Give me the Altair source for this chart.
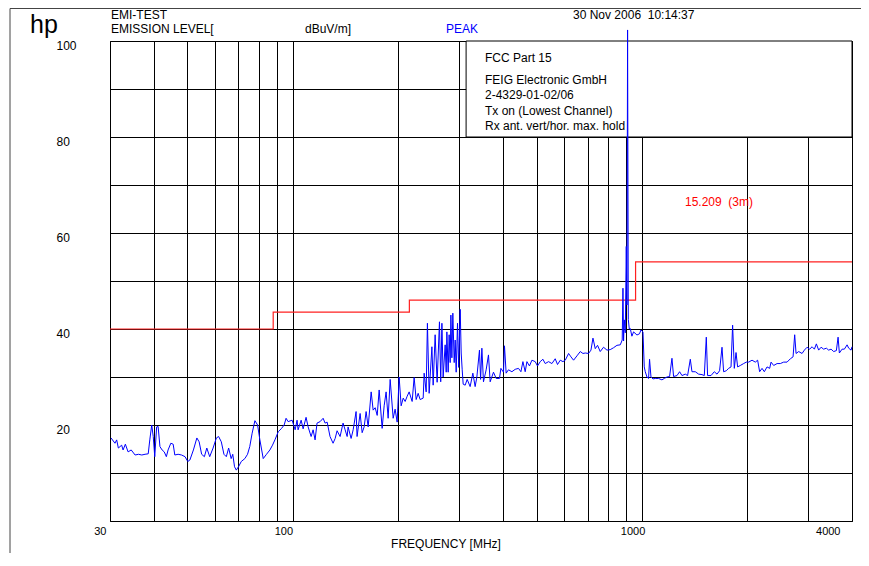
import altair as alt
import pandas as pd

# ---- measured spectrum (MHz, dBuV/m) ----
trace_30_100 = [
    (30.2, 17.3), (31.0, 16.2), (31.35, 16.9), (31.7, 15.2), (32.4, 15.8), (32.7, 14.8),
    (33.2, 16.0), (33.8, 14.4), (34.5, 14.8), (35.4, 13.75), (36.2, 13.9), (37.0, 13.75),
    (37.8, 13.9), (38.6, 14.0), (39.0, 16.9), (39.5, 20.0), (39.9, 17.6), (40.3, 13.4),
    (40.8, 19.6), (41.2, 19.7), (41.7, 15.5), (42.3, 14.8), (42.9, 14.4), (43.5, 13.4),
    (44.0, 14.8), (44.8, 16.2), (45.5, 16.0), (46.0, 13.75), (47.0, 13.9), (48.1, 13.75),
    (49.2, 13.4), (50.1, 12.4), (50.8, 12.7), (52.0, 14.8), (53.2, 17.3), (54.0, 16.5),
    (54.9, 13.9), (55.9, 13.4), (56.8, 15.2), (57.9, 13.4), (59.2, 15.2), (60.5, 17.3),
    (61.4, 17.6), (62.5, 16.5), (63.6, 13.9), (64.6, 13.4), (65.6, 15.2), (66.7, 13.0),
    (67.4, 13.9), (68.2, 11.3), (69.0, 10.6), (70.0, 11.3), (71.3, 12.4), (73.0, 13.0),
    (74.3, 13.9), (75.4, 15.5), (76.6, 18.3), (78.0, 20.9), (79.4, 20.0), (80.6, 16.9),
    (82.4, 13.0), (84.2, 13.9), (86.1, 14.8), (87.6, 15.8), (89.0, 16.9), (91.0, 18.6),
    (93.0, 19.3), (94.6, 20.0), (95.8, 21.4), (97.1, 20.7), (99.7, 21.0),
]
trace_100_300 = [
    (101.7, 19.0), (103.0, 21.0), (103.7, 19.0), (105.8, 21.0), (107.2, 19.2), (109.3, 21.6),
    (110.8, 19.6), (113.0, 17.6), (114.5, 19.0), (116.0, 16.9), (117.5, 20.4), (119.9, 20.7),
    (122.3, 21.4), (123.9, 20.4), (125.6, 20.6), (128.0, 17.6), (130.6, 16.2), (132.4, 17.2),
    (134.1, 18.8), (136.8, 17.6), (139.5, 20.4), (141.4, 19.0), (143.3, 17.6), (144.2, 19.6),
    (147.1, 17.2), (149.1, 19.0), (152.0, 22.8), (153.0, 17.6), (156.1, 22.4), (158.2, 18.4),
    (160.3, 19.6), (162.4, 22.8), (164.6, 19.6), (167.9, 26.9), (170.1, 23.1), (172.4, 23.6),
    (174.7, 22.0), (177.0, 27.3), (180.5, 19.3), (182.9, 24.0), (185.3, 26.9), (187.8, 21.4),
    (190.3, 29.5), (194.1, 21.4), (196.6, 23.3), (199.3, 20.6), (201.9, 30.0), (204.6, 24.0),
    (207.4, 25.6), (210.1, 24.9), (212.9, 26.0), (215.7, 26.9), (220.0, 24.9), (222.9, 29.9),
    (225.9, 25.3), (228.9, 26.6), (231.9, 25.3), (236.6, 25.6), (238.1, 30.8), (241.3, 26.9),
    (243.3, 41.2), (246.1, 26.6), (250.6, 36.3), (252.7, 28.3), (256.0, 38.8), (259.4, 28.9),
    (263.4, 41.5), (265.6, 29.0), (267.7, 41.2), (269.9, 30.0), (273.5, 36.7), (275.4, 31.0),
    (276.6, 39.4), (279.0, 31.0), (280.8, 38.8), (282.7, 33.0), (284.0, 42.9), (285.9, 34.0),
    (287.7, 43.3), (290.3, 33.0), (292.2, 37.7), (294.1, 31.0), (296.7, 41.2), (299.0, 32.0),
]
trace_300_1000 = [
    (302.0, 44.1), (304.0, 35.0), (306.0, 31.5), (308.0, 28.5), (312.1, 28.3), (316.2, 29.5),
    (322.5, 28.0), (328.3, 30.8), (333.3, 28.0), (337.1, 30.0), (342.9, 35.6), (345.5, 29.5),
    (348.4, 36.0), (352.1, 29.0), (358.4, 31.5), (363.9, 34.6), (368.0, 29.0), (376.1, 31.0),
    (382.9, 29.7), (391.3, 29.7), (395.0, 31.8), (401.8, 31.0), (404.4, 36.5), (408.9, 30.8),
    (415.2, 31.5), (424.7, 31.1), (434.0, 31.6), (443.6, 31.8), (450.7, 31.1), (456.7, 33.2),
    (463.6, 31.1), (468.9, 33.2), (476.9, 32.3), (484.6, 33.5), (495.2, 33.2), (502.8, 32.3),
    (511.9, 33.2), (521.1, 33.7), (529.1, 32.8), (540.8, 33.2), (553.0, 32.8), (565.1, 33.8),
    (573.8, 32.6), (584.3, 33.5), (594.7, 33.2), (603.9, 33.5), (617.2, 34.9), (626.9, 34.2),
    (637.8, 33.5), (652.2, 34.4), (666.6, 35.3), (678.5, 34.9), (688.9, 35.0), (704.1, 34.9),
    (715.3, 35.6), (724.8, 38.1), (735.8, 35.9), (747.0, 36.6), (760.4, 35.3), (777.1, 36.2),
    (794.9, 35.6), (812.3, 35.7), (830.2, 36.1), (849.0, 36.6), (867.8, 36.7), (879.0, 37.7),
    (883.4, 48.5), (886.9, 37.5), (891.1, 41.9), (897.0, 39.2), (902.9, 57.2), (907.0, 45.0),
    (910.7, 102.3), (915.0, 42.0), (921.0, 40.0), (927.0, 40.1), (937.0, 38.5), (947.4, 39.4),
    (968.8, 38.75), (985.0, 39.0), (994.7, 39.8),
]
trace_1000_4000 = [
    (1007.9, 39.4), (1016.6, 32.1), (1023.3, 31.1), (1034.9, 30.0), (1045.9, 29.7), (1052.7, 33.7),
    (1062.6, 30.0), (1076.8, 29.6), (1093.1, 29.7), (1117.1, 29.7), (1142.4, 29.4), (1160.0, 29.7),
    (1180.8, 30.0), (1201.3, 30.1), (1220.3, 33.9), (1233.4, 30.1), (1261.5, 30.3), (1283.3, 31.1),
    (1303.8, 30.3), (1332.4, 30.6), (1352.8, 30.3), (1377.2, 33.7), (1392.5, 31.1), (1423.3, 31.1),
    (1454.7, 30.6), (1487.6, 30.5), (1510.4, 30.3), (1530.4, 38.3), (1543.5, 30.3), (1578.6, 30.3),
    (1613.2, 31.1), (1642.4, 30.6), (1670.6, 31.3), (1697.4, 36.2), (1715.5, 31.1), (1746.2, 31.3),
    (1773.0, 31.8), (1801.4, 32.1), (1820.5, 40.8), (1840.8, 31.8), (1861.7, 35.1), (1881.5, 32.1),
    (1915.2, 32.4), (1957.6, 32.8), (1992.6, 33.1), (2023.1, 33.1), (2069.2, 33.5), (2114.5, 33.1),
    (2147.0, 33.5), (2175.4, 31.1), (2210.2, 31.8), (2244.0, 31.1), (2284.3, 32.1), (2324.1, 31.8),
    (2345.6, 33.1), (2386.5, 32.4), (2440.4, 32.8), (2493.9, 32.8), (2549.0, 33.1), (2606.7, 33.1),
    (2664.3, 33.8), (2712.0, 34.2), (2740.9, 38.8), (2766.2, 34.9), (2814.4, 35.3), (2877.9, 34.9),
    (2922.0, 35.6), (2974.3, 36.2), (3026.1, 35.8), (3074.6, 36.3), (3121.7, 35.8), (3162.3, 36.9),
    (3210.7, 35.6), (3262.1, 36.2), (3318.2, 35.8), (3378.3, 36.0), (3429.3, 35.6), (3484.2, 35.8),
    (3544.9, 35.3), (3608.3, 35.5), (3649.2, 38.3), (3680.4, 35.0), (3746.3, 35.8), (3803.7, 35.8),
    (3872.6, 36.7), (3913.8, 36.0), (3975.6, 35.6), (4000.0, 36.3),
]

# ---- FCC 15.209 (3m) limit ----
limit_freq = [30, 88, 88, 216, 216, 960, 960, 4000]
limit_level = [40, 40, 43.5, 43.5, 46, 46, 54, 54]

# ---- axes ----
x_grid = [30, 40, 50, 60, 70, 80, 90, 100, 200, 300, 400, 500, 600, 700, 800, 900,
          1000, 2000, 3000, 4000]
x_labels = [30, 100, 1000, 4000]
y_grid = [0, 10, 20, 30, 40, 50, 60, 70, 80, 90, 100]
y_labels = [20, 40, 60, 80, 100]

# ---- info box (frequency / level extent) ----
box_freq = [314, 4000]
box_level = [80, 100]
info_lines = ["FCC Part 15", "FEIG Electronic GmbH", "2-4329-01-02/06",
              "Tx on (Lowest Channel)", "Rx ant. vert/hor. max. hold"]

FONT = "Liberation Sans"
W, H = 742, 480

trace = trace_30_100 + trace_100_300 + trace_300_1000 + trace_1000_4000
df = pd.DataFrame(trace, columns=["freq", "level"])
df["i"] = range(len(df))
lim = pd.DataFrame({"freq": limit_freq, "level": limit_level, "i": range(len(limit_freq))})
box = pd.DataFrame({"f1": [box_freq[0]], "f2": [box_freq[1]],
                    "l1": [box_level[0]], "l2": [box_level[1]]})

xs = alt.Scale(type="log", domain=[30, 4000], nice=False)
ys = alt.Scale(domain=[0, 100], nice=False, zero=False)

x_label_offset = {
    "condition": [
        {"test": "datum.value == 30", "value": -4},
        {"test": "datum.value == 1000", "value": 3},
        {"test": "datum.value == 4000", "value": -12},
    ],
    "value": 0,
}

xaxis = alt.Axis(values=x_grid, format="d", title=None, grid=True,
                 labelExpr=f"indexof({x_labels}, datum.value) >= 0 ? datum.label : ''",
                 labelAlign="right", labelBaseline="top", labelPadding=4,
                 labelOffset=x_label_offset, labelFontSize=11)
yaxis = alt.Axis(values=y_grid, title=None, grid=True,
                 labelExpr=f"indexof({y_labels}, datum.value) >= 0 ? datum.label : ''",
                 labelAlign="left", labelBaseline="middle", labelPadding=54, labelOffset=4,
                 labelFontSize=12)

base_box = alt.Chart(box).mark_rect(fill="white", stroke="black", strokeWidth=1).encode(
    x=alt.X("f1:Q", scale=xs, axis=xaxis), x2="f2",
    y=alt.Y("l1:Q", scale=ys, axis=yaxis), y2="l2")

limit_line = alt.Chart(lim).mark_line(color="#ff2020", strokeWidth=1.2).encode(
    x=alt.X("freq:Q", scale=xs), y=alt.Y("level:Q", scale=ys), order="i:Q")

spec_line = alt.Chart(df).mark_line(color="#0000ff", strokeWidth=1).encode(
    x=alt.X("freq:Q", scale=xs), y=alt.Y("level:Q", scale=ys), order="i:Q")


def label(text, x, y, size=12, color="black", align="left"):
    return alt.Chart(pd.DataFrame({"t": [text]})).mark_text(
        align=align, baseline="alphabetic", fontSize=size, color=color, font=FONT
    ).encode(x=alt.value(x), y=alt.value(y), text="t:N")


def frame(x, x2, y, y2):
    return alt.Chart(pd.DataFrame({"a": [0]})).mark_rule(color="#444", strokeWidth=1).encode(
        x=alt.value(x), x2=alt.value(x2), y=alt.value(y), y2=alt.value(y2))


info_y = [20.5, 43.3, 58.3, 73.5, 89]
texts = [label(t, 375, yy) for t, yy in zip(info_lines, info_y)]
texts += [
    label("hp", -80, -8, size=25),
    label("EMI-TEST", 1, -22),
    label("EMISSION LEVEL[", 1, -8),
    label("dBuV/m]", 195, -8),
    label("PEAK", 336, -8, color="#0000ff"),
    label("30 Nov 2006\u00a0 10:14:37", 463, -22),
    label("15.209\u00a0 (3m)", 575, 165, color="#ff0000"),
    label("FREQUENCY [MHz]", 336, 507, align="center"),
]

chart = alt.layer(
    base_box, limit_line, spec_line, *texts,
    frame(-100, 751, -32.5, -32.5),
    frame(-100, -100, -32.5, 512),
).properties(
    width=W, height=H,
    autosize=alt.AutoSizeParams(type="none"),
    padding={"left": 102, "top": 33, "right": 9, "bottom": 32},
).configure_view(
    stroke="black", strokeWidth=1
).configure_axis(
    domain=False, ticks=False, tickSize=0,
    gridColor="black", gridOpacity=1, gridWidth=1,
    labelFont=FONT, labelColor="black",
)

chart.save("out.html", embed_options={"renderer": "svg", "actions": False})
